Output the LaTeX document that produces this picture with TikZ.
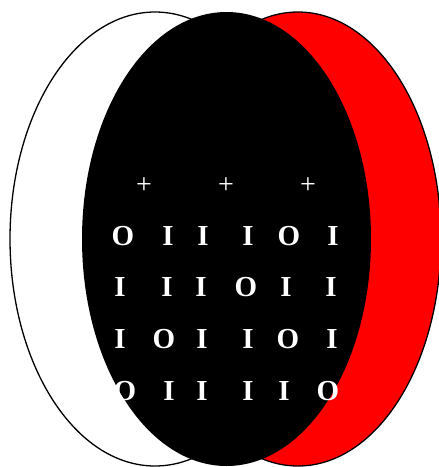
\documentclass[tikz,border=0pt]{standalone}
\usepackage{fontspec}
\setmainfont{Liberation Serif}
\begin{document}
\begin{tikzpicture}[x=1pt,y=-1pt,
  ring/.style={draw=black,line width=1.3pt},
  lt/.style={text=white,font=\fontsize{29}{29}\selectfont\bfseries,inner sep=0pt,anchor=center},
  pl/.style={text=white,font=\fontsize{28}{28}\selectfont,inner sep=0pt,anchor=center}]
\useasboundingbox (0,0) rectangle (439,467);
\path[ring,fill=white] (155,239) ellipse [x radius=145pt, y radius=227pt];
\path[ring,fill=red] (298,239) ellipse [x radius=143pt, y radius=227pt];
\path[fill=black] (226.5,239) ellipse [x radius=144.5pt, y radius=227pt];
\node[pl] (p1) at (144,186) {+};
\node[pl] (p2) at (226,186) {+};
\node[pl] (p3) at (308,186) {+};
\foreach \t/\x [count=\c] in {O/123,I/168,I/203,I/248,O/289,I/333}
  \node[lt] (ra\c) at (\x,236) {\t};
\foreach \t/\x [count=\c] in {I/120,I/167,I/201,O/246,I/286,I/331}
  \node[lt] (rb\c) at (\x,287) {\t};
\foreach \t/\x [count=\c] in {I/120,O/164,I/202,I/248,O/288,I/332}
  \node[lt] (rc\c) at (\x,339) {\t};
\foreach \t/\x [count=\c] in {O/125,I/169,I/202,I/248,I/284,O/328}
  \node[lt] (rd\c) at (\x,391) {\t};
\end{tikzpicture}
\end{document}
